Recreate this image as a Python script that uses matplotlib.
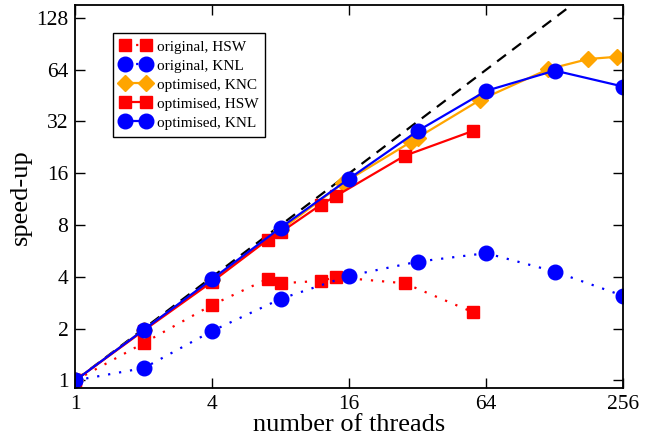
import numpy as np
import matplotlib
matplotlib.use('Agg')
import matplotlib.pyplot as plt
from matplotlib.ticker import FixedLocator, NullLocator

# speed-up data
threads_hsw_orig = [1, 2, 4, 7, 8, 12, 14, 28, 56]
speedup_hsw_orig = [1.0, 1.65, 2.75, 3.89, 3.67, 3.79, 3.98, 3.67, 2.49]

threads_knl_orig = [1, 2, 4, 8, 16, 32, 64, 128, 256]
speedup_knl_orig = [1.0, 1.18, 1.94, 2.98, 4.06, 4.9, 5.49, 4.29, 3.1]

threads_knc_opt = [1, 2, 4, 8, 15, 30, 32, 60, 120, 180, 240]
speedup_knc_opt = [1.0, 1.97, 3.85, 7.5, 14.0, 24.4, 25.8, 42.6, 64.4, 73.8, 76.0]

threads_hsw_opt = [1, 2, 4, 7, 8, 12, 14, 28, 56]
speedup_hsw_opt = [1.0, 1.95, 3.75, 6.56, 7.26, 10.5, 11.8, 20.2, 28.2]

threads_knl_opt = [1, 2, 4, 8, 16, 32, 64, 128, 256]
speedup_knl_opt = [1.0, 1.97, 3.89, 7.73, 14.9, 28.2, 48.2, 63.2, 51.0]

ideal = [1, 256]
xticks = [1, 4, 16, 64, 256]
yticks = [1, 2, 4, 8, 16, 32, 64, 128]

plt.rcParams['font.family'] = ['Liberation Serif', 'DejaVu Serif']

fig = plt.figure(figsize=(6.62, 4.41), dpi=100)
ax = fig.add_axes([0.1137, 0.1195, 0.8278, 0.8692])

# ideal scaling
ax.plot(ideal, ideal, color='black', linestyle=(0, (5, 3.5)), linewidth=1.6, zorder=1)

dot = (0, (1, 4))
ax.plot(threads_hsw_orig, speedup_hsw_orig, color='red', linestyle=dot, linewidth=1.6,
        marker='s', markersize=8.5, label='original, HSW')
ax.plot(threads_knl_orig, speedup_knl_orig, color='blue', linestyle=dot, linewidth=1.6,
        marker='o', markersize=10.5, label='original, KNL')
ax.plot(threads_knc_opt, speedup_knc_opt, color='orange', linestyle='-', linewidth=1.6,
        marker='D', markersize=8, label='optimised, KNC')
ax.plot(threads_hsw_opt, speedup_hsw_opt, color='red', linestyle='-', linewidth=1.6,
        marker='s', markersize=8.5, label='optimised, HSW')
ax.plot(threads_knl_opt, speedup_knl_opt, color='blue', linestyle='-', linewidth=1.6,
        marker='o', markersize=10.5, label='optimised, KNL')

ax.set_xscale('log', base=2)
ax.set_yscale('log', base=2)
ax.set_xlim(1, 256)
ax.set_ylim(0.9, 152)

ax.xaxis.set_major_locator(FixedLocator(xticks))
ax.yaxis.set_major_locator(FixedLocator(yticks))
ax.xaxis.set_minor_locator(NullLocator())
ax.yaxis.set_minor_locator(NullLocator())
ax.set_xticklabels([str(t) for t in xticks])
ax.set_yticklabels([str(t) for t in yticks])
ax.tick_params(direction='in', length=7, width=1, labelsize=15.5,
               top=True, right=True, pad=5)

for s in ax.spines.values():
    s.set_linewidth(1.3)

ax.set_xlabel('number of threads', fontsize=19, labelpad=0)
ax.set_ylabel('speed-up', fontsize=19, labelpad=3)

leg = ax.legend(loc='upper left', bbox_to_anchor=(0.069, 0.927), borderaxespad=0,
                fontsize=11, numpoints=2, fancybox=False, framealpha=1,
                edgecolor='black', handlelength=2.0, handletextpad=0.4,
                labelspacing=0.35, borderpad=0.45)
leg.get_frame().set_linewidth(1.0)

fig.savefig('out.png', dpi=100)
